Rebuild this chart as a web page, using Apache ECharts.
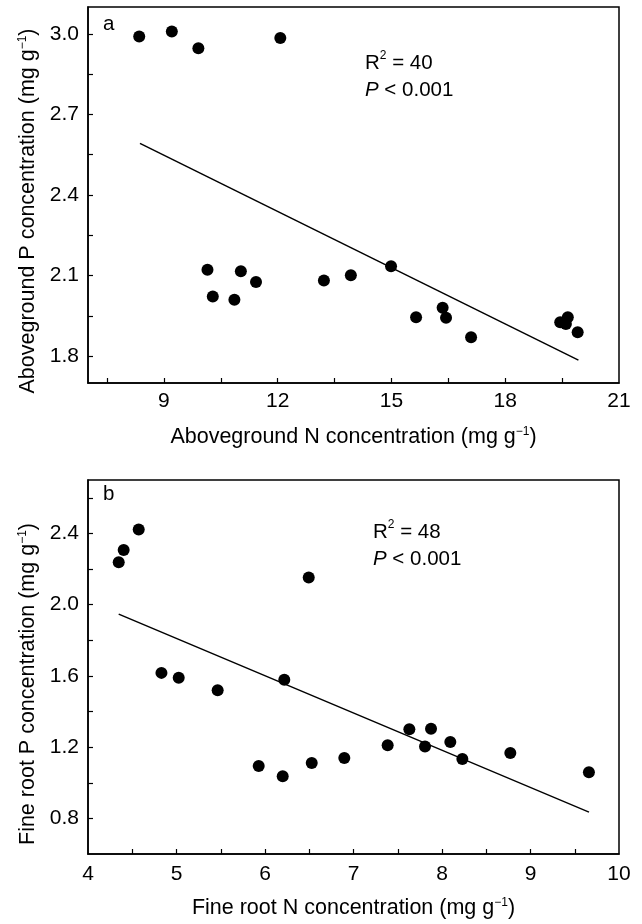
<!DOCTYPE html>
<html>
<head>
<meta charset="utf-8">
<script src="https://cdn.jsdelivr.net/npm/echarts@6/dist/echarts.min.js"></script>
<style>
html,body{margin:0;padding:0;background:#fff;}
#chart{width:642px;height:924px;}
</style>
</head>
<body>
<div id="chart"></div>
<script>
// Panel a: aboveground
var aN = [8.35, 9.21, 9.91, 12.07, 10.15, 10.29, 11.03, 10.86, 11.43, 13.22, 13.93, 14.99, 15.65, 16.35, 16.44, 17.10, 19.45, 19.65, 19.60, 19.91];
var aP = [2.990, 3.009, 2.946, 2.985, 2.122, 2.022, 2.116, 2.010, 2.076, 2.082, 2.101, 2.135, 1.945, 1.980, 1.943, 1.870, 1.926, 1.945, 1.920, 1.889];
var aFitN = [8.37, 19.93];
var aFitP = [2.592, 1.785];
// Panel b: fine root
var bN = [4.347, 4.403, 4.573, 6.494, 4.83, 5.025, 5.465, 6.218, 5.929, 6.20, 6.528, 6.896, 7.386, 7.631, 7.876, 7.808, 8.094, 8.23, 8.772, 9.66];
var bP = [2.238, 2.307, 2.422, 2.152, 1.617, 1.589, 1.520, 1.579, 1.094, 1.037, 1.111, 1.139, 1.210, 1.300, 1.303, 1.204, 1.229, 1.133, 1.167, 1.059];
var bFitN = [4.347, 9.661];
var bFitP = [1.947, 0.835];
// ticks
var aXLabels = [9, 12, 15, 18, 21];
var aXTicks = [7.5, 9, 10.5, 12, 13.5, 15, 16.5, 18, 19.5];
var aYLabels = [1.8, 2.1, 2.4, 2.7, 3.0];
var aYTicks = [1.8, 1.95, 2.1, 2.25, 2.4, 2.55, 2.7, 2.85, 3.0];
var bXLabels = [4, 5, 6, 7, 8, 9, 10];
var bXTicks = [4.5, 5, 5.5, 6, 6.5, 7, 7.5, 8, 8.5, 9, 9.5];
var bYLabels = [0.8, 1.2, 1.6, 2.0, 2.4];
var bYTicks = [0.8, 1.0, 1.2, 1.4, 1.6, 1.8, 2.0, 2.2, 2.4, 2.6];

var FONT = "'Liberation Sans', Arial, Helvetica, sans-serif";
function pairs(xs, ys){ return xs.map(function(x,i){ return [x, ys[i]]; }); }
var nameStyle = {fontSize: 21.5, color: '#000', fontFamily: FONT,
  rich: {sup: {fontSize: 12, verticalAlign: 'top', fontFamily: FONT, color: '#000'}}};

function xAxis(idx, min, max, labels, ticks, title, margin){
  return {type: 'value', gridIndex: idx, min: min, max: max,
    splitLine: {show: false},
    axisLine: {show: true, lineStyle: {color: '#000', width: 1.5}},
    axisTick: {show: true, inside: true, length: 5, customValues: ticks, lineStyle: {color: '#000', width: 1.2}},
    axisLabel: {customValues: labels, color: '#000', fontSize: 21, fontFamily: FONT, margin: margin,
      formatter: function(v){ return String(v); }},
    name: title, nameLocation: 'middle', nameGap: 43, nameTextStyle: nameStyle};
}
function yAxis(idx, min, max, labels, ticks, title, pad){
  return {type: 'value', gridIndex: idx, min: min, max: max,
    splitLine: {show: false},
    axisLine: {show: true, lineStyle: {color: '#000', width: 1.5}},
    axisTick: {show: true, inside: true, length: 5, customValues: ticks, lineStyle: {color: '#000', width: 1.2}},
    axisLabel: {customValues: labels, color: '#000', fontSize: 21, fontFamily: FONT, margin: 9,
      formatter: function(v){ return v.toFixed(1); }},
    name: title, nameLocation: 'middle', nameGap: 47,
    nameTextStyle: Object.assign({}, nameStyle, {padding: [0, pad, 0, 0]})};
}

var chart = echarts.init(document.getElementById('chart'), null, {renderer: 'canvas'});
var annoRich = {
  it: {fontStyle: 'italic', fontSize: 20.5, fontFamily: FONT, fill: '#000'},
  sup: {fontSize: 12, verticalAlign: 'top', fontFamily: FONT, fill: '#000'}
};
chart.setOption({
  backgroundColor: '#fff',
  animation: false,
  grid: [
    {left: 88, top: 7, width: 531, height: 376, show: true, borderColor: '#000', borderWidth: 1.5, backgroundColor: 'transparent'},
    {left: 88, top: 480, width: 531, height: 374, show: true, borderColor: '#000', borderWidth: 1.5, backgroundColor: 'transparent'}
  ],
  xAxis: [
    xAxis(0, 7, 21, aXLabels, aXTicks, 'Aboveground N concentration (mg g{sup|\u22121})', 8),
    xAxis(1, 4, 10, bXLabels, bXTicks, 'Fine root N concentration (mg g{sup|\u22121})', 10)
  ],
  yAxis: [
    yAxis(0, 1.7, 3.1, aYLabels, aYTicks, 'Aboveground P concentration (mg g{sup|\u22121})', 32),
    yAxis(1, 0.6, 2.7, bYLabels, bYTicks, 'Fine root P concentration (mg g{sup|\u22121})', 34)
  ],
  series: [
    {type: 'scatter', xAxisIndex: 0, yAxisIndex: 0, data: pairs(aN, aP), symbol: 'circle', symbolSize: 12,
      itemStyle: {color: '#000', opacity: 1}, silent: true},
    {type: 'line', xAxisIndex: 0, yAxisIndex: 0, data: pairs(aFitN, aFitP), symbol: 'none',
      lineStyle: {color: '#000', width: 1.5}, silent: true},
    {type: 'scatter', xAxisIndex: 1, yAxisIndex: 1, data: pairs(bN, bP), symbol: 'circle', symbolSize: 12,
      itemStyle: {color: '#000', opacity: 1}, silent: true},
    {type: 'line', xAxisIndex: 1, yAxisIndex: 1, data: pairs(bFitN, bFitP), symbol: 'none',
      lineStyle: {color: '#000', width: 1.5}, silent: true}
  ],
  graphic: [
    {type: 'text', left: 103, top: 14, style: {text: 'a', fontSize: 20.5, fontFamily: FONT, fill: '#000'}},
    {type: 'text', left: 365, top: 50, style: {text: 'R{sup|2} = 40\n{it|P} < 0.001', fontSize: 20.5, lineHeight: 27, fontFamily: FONT, fill: '#000', rich: annoRich}},
    {type: 'text', left: 103, top: 484, style: {text: 'b', fontSize: 20.5, fontFamily: FONT, fill: '#000'}},
    {type: 'text', left: 373, top: 519, style: {text: 'R{sup|2} = 48\n{it|P} < 0.001', fontSize: 20.5, lineHeight: 27, fontFamily: FONT, fill: '#000', rich: annoRich}}
  ]
});
</script>
</body>
</html>
